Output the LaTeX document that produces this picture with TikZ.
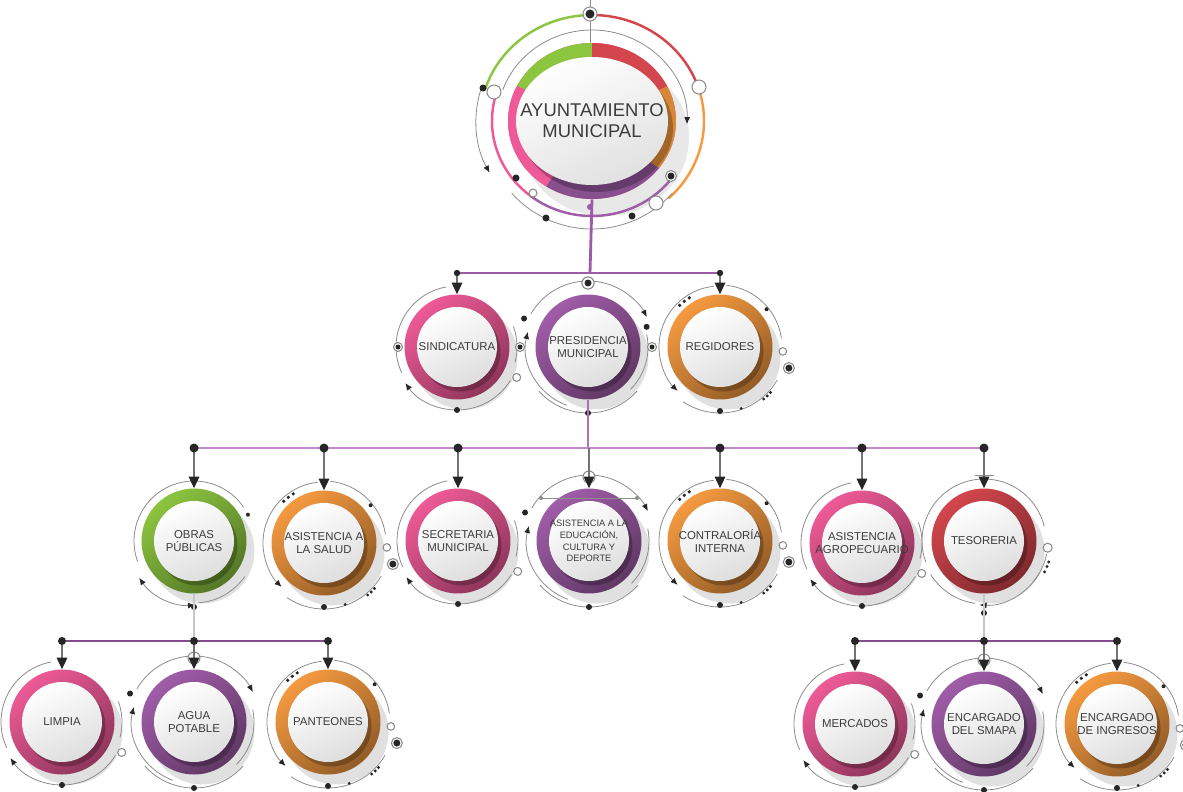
\documentclass[tikz,border=0pt]{standalone}
\usepackage{fontspec}
\setmainfont{Liberation Sans}
\usetikzlibrary{arrows.meta,calc,positioning,shapes.geometric,shadows}

\definecolor{rosa}{HTML}{EE5A97}
\definecolor{morado}{HTML}{A05DA8}
\definecolor{naranja}{HTML}{F59A40}
\definecolor{verde}{HTML}{8CC540}
\definecolor{rojo}{HTML}{D4464D}
\definecolor{lila}{HTML}{9B5BA6}
\definecolor{lilaclaro}{HTML}{C08ACB}
\definecolor{letra}{HTML}{3C3C3C}

\tikzset{
    anillo/.style={circle, minimum size=2.1cm, inner sep=0pt, align=center,
        text=letra, font=\fontsize{6.5}{7.8}\selectfont,
        drop shadow={shadow xshift=0.16cm, shadow yshift=-0.2cm, fill=black!12, opacity=1},
        top color=#1, middle color=#1, bottom color=#1!60!black, shading angle=40,
        path picture={
            \fill[black, opacity=0.25] ([shift={(0.07cm,-0.09cm)}]path picture bounding box.center) circle (0.8cm);
            \shade[top color=white, bottom color=black!13, shading angle=25] (path picture bounding box.center) circle (0.8cm);
        }},
    principal/.style={ellipse, minimum width=3.36cm, minimum height=3.12cm, inner xsep=-0.4cm, inner ysep=0pt, align=center,
        text=letra, font=\fontsize{10.5}{11.8}\selectfont,
        drop shadow={shadow xshift=0.26cm, shadow yshift=-0.34cm, fill=black!9, opacity=1},
        fill=rosa,
        path picture={
            \foreach \ini/\fin/\col in {90/155/verde,155/235/rosa,235/325/morado!85!black,325/385/naranja!88!black,25/90/rojo}
                \fill[\col] (path picture bounding box.center) -- ++(\ini:3cm) arc[start angle=\ini, end angle=\fin, radius=3cm] -- cycle;
            \fill[black, opacity=0.25] ([shift={(0.1cm,-0.14cm)}]path picture bounding box.center) ellipse [x radius=1.52cm, y radius=1.28cm];
            \shade[top color=white, bottom color=black!12, shading angle=25] (path picture bounding box.center) ellipse [x radius=1.52cm, y radius=1.28cm];
        }},
    fino/.style={black!45, line width=0.45pt},
    punta/.style={fino, -{Latex[length=4pt, width=3.4pt, color=black!85]}},
    atras/.style={fino, {Latex[length=4pt, width=3.4pt, color=black!85]}-},
    negro/.style={fill=black!85},
    hueco/.style={draw=black!45, fill=white, line width=0.6pt},
    rama/.style={lila, line width=1.1pt},
    gris/.style={black!22, line width=1.1pt},
    baja/.style={black!55, line width=0.7pt, -{Triangle[width=6pt, length=6.5pt, color=black!85]}}
}

\newcommand{\anillito}[3]{\draw[hueco] #1 circle (#2); \fill[negro] #1 circle (#3);}

\newcommand{\decoRosa}[1]{%
  \begin{scope}[shift={(#1.center)}]
    \draw[fino] (100:61) arc[start angle=100, end angle=205, radius=61];
    \draw[atras] (215:63) arc[start angle=215, end angle=328, radius=63];
    \draw[fino] (20:60) arc[start angle=20, end angle=-15, radius=60];
    \draw[hueco] (-27:67) circle (4);
    \fill[negro] (270:63) circle (3);
  \end{scope}}

\newcommand{\decoMorado}[1]{%
  \begin{scope}[shift={(#1.center)}]
    \draw[punta] (150:66) arc[start angle=150, end angle=27, radius=66];
    \draw[hueco] (90:64) circle (6);
    \fill[negro] (156:70) circle (3);
    \draw[atras] (166:62) arc[start angle=166, end angle=250, radius=62];
    \draw[fino] (222:66) arc[start angle=222, end angle=318, radius=66];
    \draw[fino] (12:60) arc[start angle=12, end angle=-45, radius=60];
    \fill[negro] (270:66) circle (3);
  \end{scope}}

\newcommand{\decoNaranja}[1]{%
  \begin{scope}[shift={(#1.center)}]
    \draw[punta] (96:61) arc[start angle=96, end angle=226, radius=61];
    \foreach \a in {122,128,134} \fill[negro] (\a:58) circle (1.8);
    \draw[fino] (84:62) arc[start angle=84, end angle=8, radius=62];
    \fill[negro] (39:60) circle (2);
    \draw[hueco] (-4:63) circle (3.8);
    \anillito{(-17:72)}{5.5}{3.5}
    \draw[fino] (236:66) arc[start angle=236, end angle=330, radius=66];
    \foreach \a in {-42,-46,-50} \fill[negro] (\a:68) circle (1.6);
    \fill[negro] (270:64) circle (3);
    \fill[negro] (289:65) circle (1.6);
  \end{scope}}

\newcommand{\decoVerde}[1]{%
  \begin{scope}[shift={(#1.center)}]
    \draw[fino] (34:60) arc[start angle=34, end angle=200, radius=60];
    \fill[negro] (26:60) circle (2);
    \draw[fino, {Latex[length=4pt, width=3.4pt, color=black!85]}-{Latex[length=4pt, width=3.4pt, color=black!85]}] (214:66) arc[start angle=214, end angle=274, radius=62];
    \draw[fino] (274:62) arc[start angle=274, end angle=325, radius=62];
    \fill[negro] (270:66) circle (3);
  \end{scope}}

\newcommand{\decoRojo}[1]{%
  \begin{scope}[shift={(#1.center)}]
    \draw[fino] (200:62) arc[start angle=200, end angle=14, radius=62];
    \draw[fino] (-9,66) -- (10,66);
    \draw[hueco] (-6:64) circle (4.5);
    \draw[fino] (-12:64) arc[start angle=-12, end angle=-40, radius=64];
    \foreach \a in {-18,-22,-27} \fill[negro] (\a:68) circle (1.6);
    \draw[atras] (266:64) arc[start angle=266, end angle=330, radius=64];
    \draw[fino] (212:63) arc[start angle=212, end angle=262, radius=63];
    \fill[negro] (270:72) circle (3);
  \end{scope}}

\begin{document}
\begin{tikzpicture}[x=0.02cm, y=0.02cm]
    \useasboundingbox (0,0) rectangle (1183,-791);
    \fill[white] (0,0) rectangle (1183,-791);

    % nodos
    \node[principal] (ayto) at (592,-121) {AYUNTAMIENTO\\MUNICIPAL};

    \node[anillo=rosa] (sind) at (457,-347) {SINDICATURA};
    \node[anillo=morado] (pres) at (588,-347) {PRESIDENCIA\\MUNICIPAL};
    \node[anillo=naranja] (regi) at (720,-347) {REGIDORES};

    \node[anillo=verde] (obras) at (194,-541) {OBRAS\\PÚBLICAS};
    \node[anillo=naranja] (salud) at (324,-543) {ASISTENCIA A\\LA SALUD};
    \node[anillo=rosa] (secre) at (458,-541) {SECRETARIA\\MUNICIPAL};
    \node[anillo=morado, font=\fontsize{5.3}{6.6}\selectfont] (educ) at (589,-541) {ASISTENCIA A LA\\EDUCACIÓN,\\CULTURA Y\\DEPORTE};
    \node[anillo=naranja] (contra) at (720,-541) {CONTRALORÍA\\INTERNA};
    \node[anillo=rosa] (agro) at (862,-543) {ASISTENCIA\\AGROPECUARIO};
    \node[anillo=rojo] (teso) at (984,-541) {TESORERIA};

    \node[anillo=rosa] (limpia) at (62,-722) {LIMPIA};
    \node[anillo=morado] (agua) at (194,-722) {AGUA\\POTABLE};
    \node[anillo=naranja] (pante) at (328,-722) {PANTEONES};
    \node[anillo=rosa] (merca) at (855,-724) {MERCADOS};
    \node[anillo=morado] (smapa) at (984,-724) {ENCARGADO\\DEL SMAPA};
    \node[anillo=naranja] (ingre) at (1117,-724) {ENCARGADO\\DE INGRESOS};

    % adornos
    \begin{scope}[shift={(ayto.center)}]
        \draw[verde, line width=1.4pt] (90:112 and 106) arc[start angle=90, end angle=163, x radius=112, y radius=106];
        \draw[rojo, line width=1.4pt] (90:112 and 106) arc[start angle=90, end angle=18, x radius=112, y radius=106];
        \draw[naranja, line width=1.4pt] (18:112 and 106) arc[start angle=18, end angle=-47, x radius=112, y radius=106];
        \draw[rosa, line width=1.4pt] (165:100 and 95) arc[start angle=165, end angle=232, x radius=100, y radius=95];
        \draw[morado, line width=1.4pt] (232:100 and 95) arc[start angle=232, end angle=325, x radius=100, y radius=95];
        \draw[punta] (160:95 and 91) arc[start angle=160, end angle=-2, x radius=95, y radius=91];
        \draw[punta] (163:116 and 110) arc[start angle=163, end angle=208, x radius=116, y radius=110];
        \draw[fino] (222:108) arc[start angle=222, end angle=318, radius=108];
        \draw[fino] (-2,121) -- (-2,78);
        \anillito{(-2,107)}{7}{4.5}
        \anillito{(79,-55)}{5.5}{3.5}
        \draw[hueco] (-98,29) circle (7);
        \draw[hueco] (107,34) circle (7);
        \draw[hueco] (64,-82) circle (7);
        \draw[hueco] (-59,-72) circle (4);
        \foreach \p in {(-109,33),(-76,-57),(-46,-97),(40,-95)} \fill[negro] \p circle (3.5);
        \fill[lila] (-2,-86) circle (3);
    \end{scope}

    \decoRosa{sind}
    \anillito{($(sind)+(-59,0)$)}{4.5}{2.5}
    \anillito{($(sind)+(63,0)$)}{4.5}{2.5}
    \decoMorado{pres}
    \anillito{($(pres)+(0,64)$)}{6}{3.5}
    \anillito{($(pres)+(64,0)$)}{4.5}{2.5}
    \fill[negro] ($(pres)+(19:62)$) circle (3);
    \decoNaranja{regi}

    \decoVerde{obras}
    \decoNaranja{salud}
    \decoRosa{secre}
    \decoMorado{educ}
    \draw[fino] ($(educ)+(-48,43)$) -- ($(educ)+(48,43)$);
    \fill[black!45] ($(educ)+(-48,43)$) circle (2) ($(educ)+(48,43)$) circle (2);
    \decoNaranja{contra}
    \decoRosa{agro}
    \decoRojo{teso}

    \decoRosa{limpia}
    \decoMorado{agua}
    \decoNaranja{pante}
    \decoRosa{merca}
    \decoMorado{smapa}
    \decoNaranja{ingre}

    % conectores
    \coordinate (j0) at (590,-273);
    \coordinate (k0) at (588,-448);
    \coordinate (m0) at (194,-641);
    \coordinate (n0) at (984,-641);

    \draw[rama, line width=1.6pt] (ayto.south) -- (j0);
    \draw[rama] (sind |- j0) -- (regi |- j0);
    \foreach \n in {sind,regi} {
        \draw[baja] (\n |- j0) -- (\n.north);
        \fill[negro] (\n |- j0) circle (3.2);
    }

    \draw[rama, lila!85!white] (pres.south) -- (k0);
    \draw[rama, lilaclaro] (obras |- k0) -- (teso |- k0);
    \foreach \n in {obras,salud,secre,educ,contra,agro,teso}
        \draw[baja] (\n |- k0) -- (\n.north);
    \foreach \n in {obras,salud,secre,contra,agro,teso}
        \fill[negro] (\n |- k0) circle (4.5);

    \draw[gris] (obras.south) -- (m0);
    \draw[rama, lila!85!black] (limpia |- m0) -- (pante |- m0);
    \foreach \n in {limpia,agua,pante} {
        \draw[baja] (\n |- m0) -- (\n.north);
        \fill[negro] (\n |- m0) circle (4);
    }

    \draw[gris] (teso.south) -- (n0);
    \draw[rama, lila!85!black] (merca |- n0) -- (ingre |- n0);
    \foreach \n in {merca,smapa,ingre} {
        \draw[baja] (\n |- n0) -- (\n.north);
        \fill[negro] (\n |- n0) circle (4);
    }
\end{tikzpicture}
\end{document}
